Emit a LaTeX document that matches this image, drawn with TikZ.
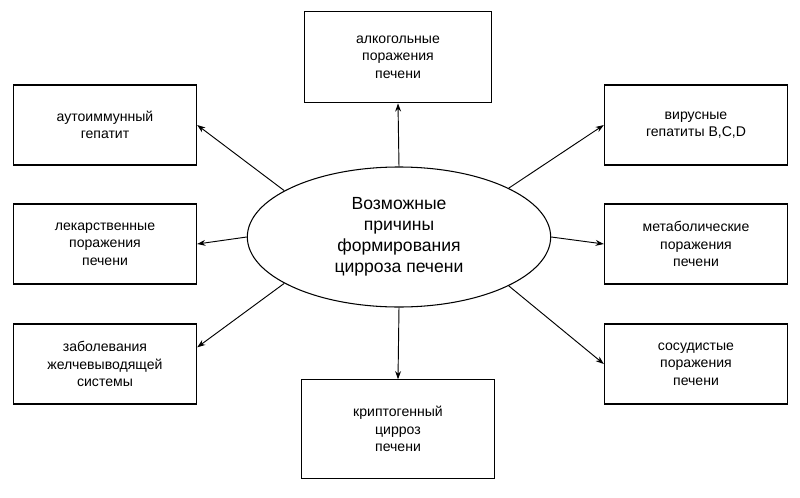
\documentclass[tikz,border=0pt]{standalone}
\usepackage{fontspec}
\setmainfont{Liberation Sans}
\usetikzlibrary{shapes.geometric,arrows.meta}
\begin{document}
\begin{tikzpicture}[x=0.03cm,y=-0.03cm,
  box/.style={draw,line width=0.9pt,minimum width=5.5cm,minimum height=2.4cm,align=center,font=\fontsize{12}{15}\selectfont,inner sep=2pt},
  arr/.style={-{Stealth[length=7pt,width=5pt]},line width=0.8pt}]
\useasboundingbox (0,0) rectangle (800,498);
\node[draw,ellipse,line width=0.9pt,minimum width=9.1cm,minimum height=4.2cm,align=center,font=\fontsize{15}{18}\selectfont] (e) at (399,237) {Возможные\\причины\\формирования\\цирроза печени};
\node[box,minimum width=5.6cm,minimum height=2.75cm] (t) at (398,57) {алкогольные\\поражения\\печени};
\node[box] (l1) at (105,125) {аутоиммунный\\гепатит};
\node[box] (l2) at (105,244) {лекарственные\\поражения\\печени};
\node[box] (l3) at (105,364) {заболевания\\желчевыводящей\\системы};
\node[box] (r1) at (696,125) {вирусные\\гепатиты B,C,D};
\node[box] (r2) at (696,244) {метаболические\\поражения\\печени};
\node[box] (r3) at (696,364) {сосудистые\\поражения\\печени};
\node[box,minimum width=5.8cm,minimum height=2.95cm] (b) at (398,429) {криптогенный\\цирроз\\печени};
\draw[arr] (e.north) -- (t.south);
\draw[arr] (e.south) -- (b.north);
\draw[arr] (e.158) -- (l1.east);
\draw[arr] (e.west) -- (l2.east);
\draw[arr] (e.202) -- ([yshift=0.5cm]l3.east);
\draw[arr] (e.24) -- (r1.west);
\draw[arr] (e.east) -- (r2.west);
\draw[arr] (e.336) -- (r3.west);
\end{tikzpicture}
\end{document}
